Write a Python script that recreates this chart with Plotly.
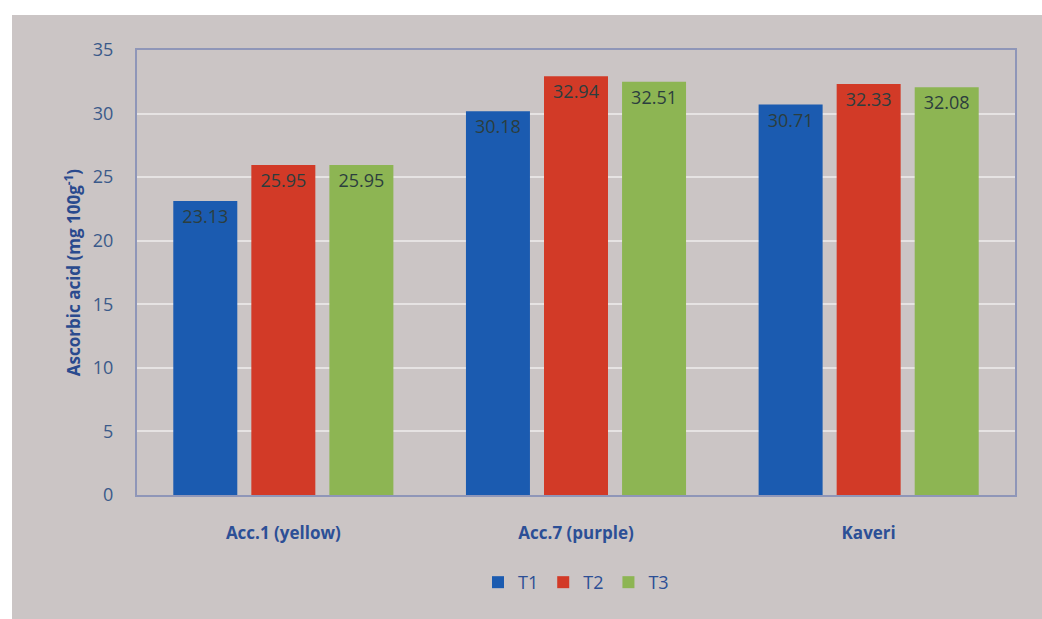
import plotly.graph_objects as go

categories = ["Acc.1 (yellow)", "Acc.7 (purple)", "Kaveri"]
series_names = ["T1", "T2", "T3"]
t1_values = [23.13, 30.18, 30.71]
t2_values = [25.95, 32.94, 32.33]
t3_values = [25.95, 32.51, 32.08]
y_ticks = [0, 5, 10, 15, 20, 25, 30, 35]

colors = ["#1b5bb0", "#d23a27", "#8db553"]
values = [t1_values, t2_values, t3_values]

fig = go.Figure()
for name, vals, col in zip(series_names, values, colors):
    fig.add_trace(go.Bar(
        x=categories, y=vals, name=name,
        marker=dict(color=col, line=dict(width=0)),
        text=[f"{v:.2f}" for v in vals],
        textposition="inside", insidetextanchor="end",
        textangle=0,
        textfont=dict(family="Open Sans, sans-serif", size=18, color="#2c3e3e"),
    ))

fig.update_layout(
    width=1042, height=619,
    barmode="group", bargap=0.2, bargroupgap=0.18,
    paper_bgcolor="#cbc5c5", plot_bgcolor="#cbc5c5",
    margin=dict(l=137, r=27, t=50, b=124),
    font=dict(family="Open Sans, sans-serif", color="#2e4f8a"),
    uniformtext=dict(minsize=10, mode="show"),
    xaxis=dict(
        tickfont=dict(size=17, color="#2c4f96", family="Open Sans, sans-serif"),
        tickprefix="<b>", ticksuffix="</b>",
        ticklabelstandoff=22,
        showline=True, linecolor="#8f96b8", linewidth=2, mirror=True,
        ticks="", showgrid=False,
    ),
    yaxis=dict(
        range=[0, 35], tickvals=y_ticks,
        tickfont=dict(size=18, color="#3a5a8a"),
        ticklabelstandoff=18,
        title=dict(text="<b>Ascorbic acid (mg 100g<sup>-1</sup>)</b>",
                   font=dict(size=17, color="#2a4a8e"), standoff=8),
        showgrid=True, gridcolor="#e6e3e3", gridwidth=2,
        showline=True, linecolor="#8f96b8", linewidth=2, mirror=True,
        zeroline=False, ticks="",
    ),
    legend=dict(orientation="h", x=0.5, xanchor="center", y=-0.155, yanchor="top",
                font=dict(size=18, color="#2c4f96"), bgcolor="rgba(0,0,0,0)"),
)
fig.add_shape(type="rect", xref="paper", yref="paper",
              x0=-137/878, x1=1 + 27/878, y0=1 + 35/445, y1=1 + 50/445,
              fillcolor="white", line=dict(width=0), layer="above")
fig.add_shape(type="rect", xref="paper", yref="paper",
              x0=-137/878, x1=-125/878, y0=-124/445, y1=1 + 50/445,
              fillcolor="white", line=dict(width=0), layer="above")

fig.write_html("out.html")
